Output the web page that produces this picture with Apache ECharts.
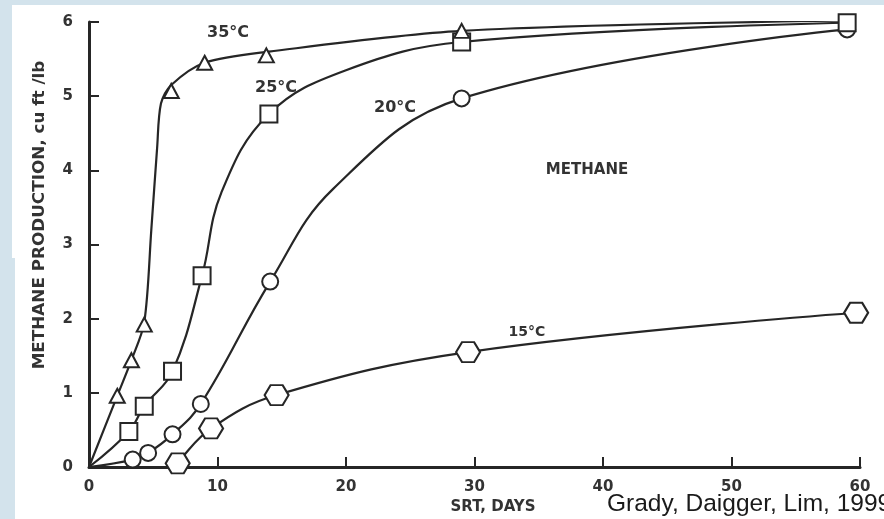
<!DOCTYPE html>
<html>
<head>
<meta charset="utf-8">
<script src="https://cdn.jsdelivr.net/npm/echarts@6/dist/echarts.min.js"></script>
<style>
html,body{margin:0;padding:0;background:#d3e3ec;}
#chart{width:884px;height:519px;}
</style>
</head>
<body>
<div id="chart"></div>
<script>
// ---- axis ticks ----
const xTickValues = [0, 10, 20, 30, 40, 50, 60];
const yTickValues = [0, 1, 2, 3, 4, 5, 6];

// ---- 35 °C ----
const t35MarkX = [2.2, 3.3, 4.3, 6.4, 9.0, 13.8, 29, 59];
const t35MarkY = [0.96, 1.44, 1.92, 5.07, 5.45, 5.55, 5.88, 6.08];
const t35CurveX = [0, 2.2, 3.3, 4.3, 4.85, 5.3, 5.6, 6.4, 9.0, 14, 29, 59];
const t35CurveY = [0, 0.96, 1.44, 1.95, 3.2, 4.3, 4.9, 5.15, 5.45, 5.6, 5.88, 6.02];

// ---- 25 °C ----
const t25MarkX = [3.1, 4.3, 6.5, 8.8, 14.0, 29, 59];
const t25MarkY = [0.48, 0.82, 1.29, 2.58, 4.76, 5.73, 5.99];
const t25CurveX = [0, 3.1, 4.3, 6.5, 8.8, 10.3, 14.0, 20, 29, 59];
const t25CurveY = [0, 0.48, 0.82, 1.29, 2.58, 3.7, 4.76, 5.35, 5.73, 5.99];

// ---- 20 °C ----
const t20MarkX = [3.4, 4.6, 6.5, 8.7, 14.1, 29, 59];
const t20MarkY = [0.1, 0.19, 0.44, 0.85, 2.5, 4.97, 5.9];
const t20CurveX = [0, 3.4, 4.6, 6.5, 8.7, 14.1, 19, 29, 59];
const t20CurveY = [0, 0.1, 0.19, 0.44, 0.85, 2.5, 3.75, 4.97, 5.9];

// ---- 15 °C ----
const t15MarkX = [6.9, 9.5, 14.6, 29.5, 59.7];
const t15MarkY = [0.05, 0.52, 0.97, 1.55, 2.08];
const t15CurveX = [6.9, 9.5, 14.6, 29.5, 59.7];
const t15CurveY = [0.05, 0.52, 0.97, 1.55, 2.08];

// ---- texts ----
const seriesLabels = ['35°C', '25°C', '20°C', '15°C'];
const xAxisTitle = 'SRT, DAYS';
const yAxisTitle = 'METHANE PRODUCTION, cu ft /lb';
const panelLabel = 'METHANE';
const sourceText = 'Grady, Daigger, Lim, 1999';

const INK = '#262626';
const zip = (xs, ys) => xs.map((x, i) => [x, ys[i]]);
const hexPath = 'path://M0,5 L3,0 L9,0 L12,5 L9,10 L3,10 Z';

function curve(name, xs, ys, s) {
  return {
    name: name + ' curve', type: 'line', data: zip(xs, ys),
    smooth: s, showSymbol: false, symbol: 'none',
    lineStyle: { color: INK, width: 2.2 }, z: 2, silent: true
  };
}
function marks(name, xs, ys, symbol, size) {
  return {
    name: name, type: 'scatter', data: zip(xs, ys), symbol: symbol, symbolSize: size,
    itemStyle: { color: '#ffffff', borderColor: INK, borderWidth: 2, opacity: 1 }, z: 3, silent: true
  };
}

const chart = echarts.init(document.getElementById('chart'));
const labFont = 'DejaVu Sans';
chart.setOption({
  backgroundColor: 'transparent',
  animation: false,
  grid: { left: 89, top: 22, right: 24, bottom: 52, containLabel: false },
  xAxis: {
    type: 'value', min: 0, max: 60, interval: 10,
    axisLine: { show: true, lineStyle: { color: INK, width: 3 } },
    axisTick: { show: true, inside: true, length: 10, lineStyle: { color: INK, width: 2 }, customValues: xTickValues },
    axisLabel: { color: '#333', fontFamily: labFont, fontWeight: 'bold', fontSize: 15, margin: 13, customValues: xTickValues },
    splitLine: { show: false }
  },
  yAxis: {
    type: 'value', min: 0, max: 6, interval: 1,
    axisLine: { show: true, lineStyle: { color: INK, width: 3 } },
    axisTick: { show: true, inside: true, length: 10, lineStyle: { color: INK, width: 2 }, customValues: yTickValues },
    axisLabel: { color: '#333', fontFamily: labFont, fontWeight: 'bold', fontSize: 15, margin: 16, customValues: yTickValues },
    splitLine: { show: false }
  },
  graphic: [
    { type: 'rect', z: -10, shape: { x: 12, y: 5, width: 872, height: 514 }, style: { fill: '#ffffff' } },
    { type: 'rect', z: -9, shape: { x: 0, y: 258, width: 15, height: 261 }, style: { fill: '#d3e3ec' } },
    { type: 'text', x: 228, y: 33, style: { text: seriesLabels[0], font: 'bold 16px DejaVu Sans', fill: '#333', align: 'center', verticalAlign: 'middle' } },
    { type: 'text', x: 276, y: 88, style: { text: seriesLabels[1], font: 'bold 16px DejaVu Sans', fill: '#333', align: 'center', verticalAlign: 'middle' } },
    { type: 'text', x: 395, y: 108, style: { text: seriesLabels[2], font: 'bold 16px DejaVu Sans', fill: '#333', align: 'center', verticalAlign: 'middle' } },
    { type: 'text', x: 527, y: 332, style: { text: seriesLabels[3], font: 'bold 14px DejaVu Sans', fill: '#333', align: 'center', verticalAlign: 'middle' } },
    { type: 'text', x: 587, y: 170, style: { text: panelLabel, font: 'bold 15px DejaVu Sans', fill: '#333', align: 'center', verticalAlign: 'middle' } },
    { type: 'text', x: 493, y: 507, style: { text: xAxisTitle, font: 'bold 15px DejaVu Sans', fill: '#333', align: 'center', verticalAlign: 'middle' } },
    { type: 'text', x: 40, y: 215, rotation: Math.PI / 2, scaleX: 1.12, style: { text: yAxisTitle, font: 'bold 15px DejaVu Sans', fill: '#333', align: 'center', verticalAlign: 'middle' } },
    { type: 'text', x: 607, y: 504, style: { text: sourceText, font: '24.5px Liberation Sans', fill: '#1a1a1a', align: 'left', verticalAlign: 'middle' } }
  ],
  series: [
    curve('35', t35CurveX, t35CurveY, 0.3),
    curve('25', t25CurveX, t25CurveY, 0.4),
    curve('20', t20CurveX, t20CurveY, 0.4),
    curve('15', t15CurveX, t15CurveY, 0.4),
    marks(seriesLabels[3], t15MarkX, t15MarkY, hexPath, [24, 20]),
    marks(seriesLabels[2], t20MarkX, t20MarkY, 'circle', 16),
    marks(seriesLabels[1], t25MarkX, t25MarkY, 'rect', 17),
    marks(seriesLabels[0], t35MarkX, t35MarkY, 'triangle', [15, 14])
  ]
});
</script>
</body>
</html>
